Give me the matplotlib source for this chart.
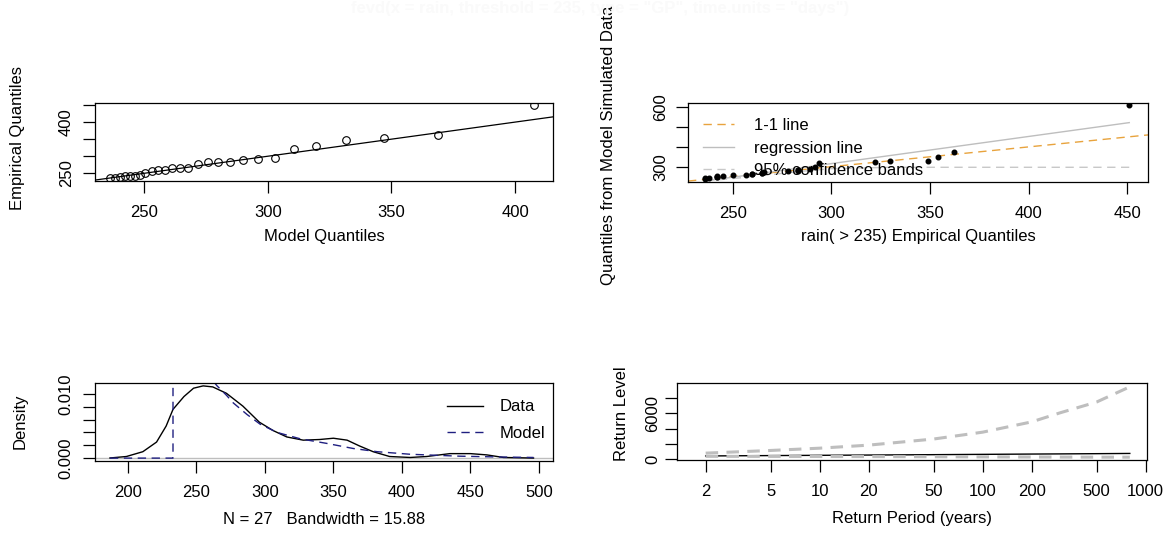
import numpy as np
import matplotlib
matplotlib.use("Agg")
import matplotlib.pyplot as plt

plt.rcParams['font.family'] = ['Liberation Sans', 'DejaVu Sans']
plt.rcParams['lines.scale_dashes'] = False

# ---------------- data ----------------
# panel 1: model vs empirical quantiles
model_q = [236.3, 238.3, 240.3, 242.3, 244.4, 246.4, 248.4, 250.4, 253.1, 255.8,
           258.5, 261.2, 264.5, 267.9, 271.9, 275.9, 280.0, 284.7, 290.0, 296.0,
           302.8, 310.6, 319.6, 331.5, 347.0, 368.9, 407.7]
emp_q = [236, 236, 238, 242, 242, 242, 245, 250, 257, 260, 260, 265, 265, 266,
         278, 283, 283, 283, 289, 292, 294, 322, 330, 349, 354, 362, 451]
# panel 2: quantiles from model simulated data
sim_q = [240, 243, 245, 247, 249, 252, 254, 257, 260, 262, 265, 267, 270, 272,
         276, 279, 282, 285, 290, 298, 318, 325, 330, 330, 350, 376, 612]
band_x = [236, 250, 265, 283, 300, 330, 451]
band_lo = [228, 240, 255, 275, 290, 297, 297]
# panel 3: density
dens_x = [187, 199, 211, 221, 228, 233, 241, 248, 255, 262, 272, 284, 296, 306,
          316, 328, 340, 350, 360, 369, 379, 391, 406, 418, 435, 450, 462, 474, 496]
dens_data = [0.00002, 0.00025, 0.0010, 0.0025, 0.0050, 0.0076, 0.0096, 0.0109,
             0.01126, 0.0111, 0.0101, 0.0081, 0.0056, 0.0043, 0.0033, 0.0028,
             0.0029, 0.0031, 0.0028, 0.0019, 0.0010, 0.00025, 0.0001, 0.00025,
             0.0007, 0.0007, 0.0005, 0.0001, 0.00001]
model_x = [187, 233, 233, 245, 255, 265, 272, 277, 287, 296.5, 309, 326, 345,
           364.5, 382, 406, 442, 470, 496]
model_dens = [0, 0, 0.024, 0.0175, 0.0140, 0.0113, 0.0098, 0.0086, 0.0068, 0.0053,
              0.0040, 0.0030, 0.0023, 0.0015, 0.0010, 0.0006, 0.0003, 0.00018, 0.0001]
# panel 4: return levels
ret_period = [2, 5, 10, 20, 50, 100, 200, 300, 500, 800]
ret_level = [430, 480, 515, 550, 600, 640, 680, 700, 730, 760]
ret_lo = [380, 370, 360, 350, 330, 310, 290, 280, 270, 270]
ret_hi = [800, 1150, 1450, 1850, 2650, 3550, 4900, 6100, 7500, 9500]

title_text = 'fevd(x = rain, threshold = 235, type = "GP", time.units = "days")'

# ---------------- figure ----------------
W, H, DPI = 1170, 554, 100
fig = plt.figure(figsize=(W / DPI, H / DPI), dpi=DPI)
FS = 12


def box(l, t, r, b):
    return [l / W, 1 - b / H, (r - l) / W, (b - t) / H]


def ftext(x, y, s, **kw):
    fig.text(x / W, 1 - y / H, s, **kw)


def style(ax, ypad):
    for s in ax.spines.values():
        s.set_linewidth(0.9)
    ax.tick_params(direction='out', length=8.3, width=0.9, labelsize=FS)
    ax.tick_params(axis='x', pad=9)
    ax.tick_params(axis='y', pad=ypad)


ax1 = fig.add_axes(box(95, 103, 553, 181))
ax2 = fig.add_axes(box(688, 103, 1148, 182))
ax3 = fig.add_axes(box(95, 383, 553, 461))
ax4 = fig.add_axes(box(677, 383, 1147, 460))
style(ax1, 7)
style(ax2, 6)
style(ax3, 7)
style(ax4, 4)

# panel 1
ax1.plot(model_q, emp_q, linestyle='none', marker='o', markersize=5.5,
         markerfacecolor='none', markeredgecolor='black', markeredgewidth=0.8)
ax1.axline((250, 250), slope=1, color='black', lw=0.9)
ax1.set_xlim(230.2, 415.3)
ax1.set_ylim(227.5, 455.9)
ax1.set_xticks([250, 300, 350, 400])
ax1.set_yticks([250, 300, 350, 400, 450])
ax1.set_yticklabels(['250', '', '', '400', ''], rotation=90, va='center')

# panel 2
ax2.axline((300, 300), slope=1, color='#E8A33D', lw=1.0, linestyle=(0, (6, 4)),
           label='1-1 line')
coef = np.polyfit(emp_q, sim_q, 1)
xr = np.array([min(emp_q), max(emp_q)])
ax2.plot(xr, np.polyval(coef, xr), color='#BEBEBE', lw=1.0, label='regression line')
ax2.plot(band_x, band_lo, color='#C8C8C8', lw=1.0, linestyle=(0, (6, 4)),
         label='95% confidence bands')
ax2.plot(emp_q, sim_q, linestyle='none', marker='o', markersize=3.3, color='black')
ax2.set_xlim(227.4, 460.5)
ax2.set_ylim(222.7, 621.7)
ax2.set_xticks([250, 300, 350, 400, 450])
ax2.set_yticks([300, 400, 500, 600])
ax2.set_yticklabels(['300', '', '', '600'], rotation=90, va='center')
ax2.legend(loc='upper left', bbox_to_anchor=(0.032, 0.81), frameon=False,
           fontsize=FS, handlelength=1.9, handletextpad=1.2, labelspacing=0.45,
           borderaxespad=0, borderpad=0)

# panel 3
ax3.axhline(0, color='#BEBEBE', lw=1.0)
ax3.plot(dens_x, dens_data, color='black', lw=1.0, label='Data')
ax3.plot(model_x, model_dens, color='#1F1F80', lw=1.0, linestyle=(0, (6, 4)),
         label='Model')
ax3.set_xlim(176.1, 510.2)
ax3.set_ylim(-0.00045, 0.01171)
ax3.set_xticks([200, 250, 300, 350, 400, 450, 500])
ax3.set_yticks([0, 0.002, 0.004, 0.006, 0.008, 0.010])
ax3.set_yticklabels(['0.000', '', '', '', '', '0.010'], rotation=90, va='center')
ax3.legend(loc='upper left', bbox_to_anchor=(0.768, 0.79), frameon=False,
           fontsize=FS, handlelength=2.2, handletextpad=1.0, labelspacing=0.67,
           borderaxespad=0, borderpad=0)

# panel 4
ax4.set_xscale('log')
ax4.plot(ret_period, ret_level, color='black', lw=1.0)
ax4.plot(ret_period, ret_hi, color='#BEBEBE', lw=2.2, linestyle=(0, (9, 6)))
ax4.plot(ret_period, ret_lo, color='#BEBEBE', lw=2.2, linestyle=(0, (9, 6)))
ax4.set_xlim(1.334, 1020)
ax4.set_ylim(-100, 10000)
ax4.set_xticks([2, 5, 10, 20, 50, 100, 200, 500, 1000])
ax4.set_xticklabels(['2', '5', '10', '20', '50', '100', '200', '500', '1000'])
ax4.minorticks_off()
ax4.set_yticks([0, 2000, 4000, 6000, 8000])
ax4.set_yticklabels(['0', '', '', '6000', ''], rotation=90, va='center')

# axis labels
ftext(324, 236, 'Model Quantiles', ha='center', va='center', fontsize=FS)
ftext(18, 138, 'Empirical Quantiles', ha='center', va='center', rotation=90,
      fontsize=FS)
ftext(918, 237, 'rain( > 235) Empirical Quantiles', ha='center', va='center',
      fontsize=FS)
ftext(609, 285, 'Quantiles from Model Simulated Data', ha='center', va='bottom',
      rotation=90, fontsize=12.1)
ftext(324, 519, 'N = 27   Bandwidth = 15.88', ha='center', va='center', fontsize=FS)
ftext(20, 421, 'Density', ha='center', va='center', rotation=90, fontsize=FS)
ftext(912, 519, 'Return Period (years)', ha='center', va='center', fontsize=FS)
ftext(622, 414, 'Return Level', ha='center', va='center', rotation=90, fontsize=FS)
ftext(600, 9, title_text, ha='center', va='center', fontsize=FS, fontweight='bold',
      color='#FAFAFA')

fig.savefig('out.png', dpi=DPI)
